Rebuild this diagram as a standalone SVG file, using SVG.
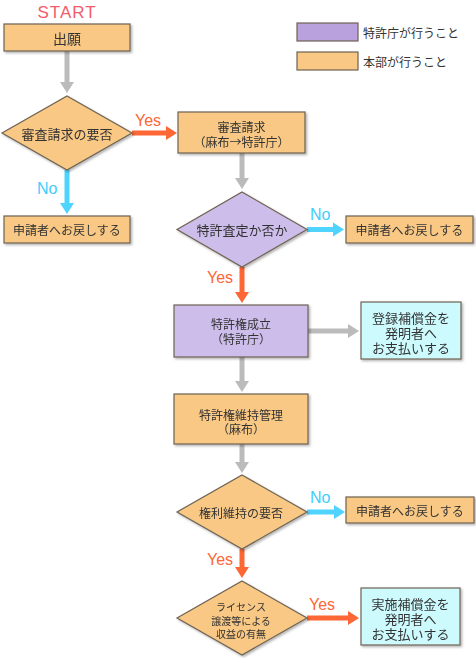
<svg xmlns="http://www.w3.org/2000/svg" width="476" height="658" viewBox="0 0 476 658">
<defs>
<filter id="sh" x="-10%" y="-10%" width="125%" height="130%">
<feDropShadow dx="1.5" dy="1.5" stdDeviation="1.2" flood-color="#000" flood-opacity="0.3"/>
</filter>
</defs>
<style>
.o{fill:#f8c884;stroke:#6e6252;stroke-width:1.2}
.p{fill:#cdbdea;stroke:#6e6252;stroke-width:1.2}
.c{fill:#ccfafd;stroke:#6e6252;stroke-width:1.2}
.n{filter:url(#sh)}
.t{font-family:"Noto Sans CJK JP","Noto Sans",sans-serif;fill:#333;text-anchor:middle;dominant-baseline:central}
.g{fill:#bbbbbb}
.y{fill:#fd6635}
.b{fill:#4fd3ff}
.ly{font-family:"Liberation Sans",Arial,sans-serif;font-size:16px;fill:#fd6635}
.lb{font-family:"Liberation Sans",Arial,sans-serif;font-size:16px;fill:#3fcdfd}
</style>
<rect width="476" height="658" fill="#fff"/>
<text x="67" y="18" font-family="Liberation Sans,Arial,sans-serif" font-size="17" letter-spacing="1" fill="#f25c6a" text-anchor="middle">START</text>
<g id="legend">
<rect x="297" y="23" width="61" height="18" fill="#b9a1de" stroke="#6e6252" stroke-width="1.2"/>
<text class="t" x="363" y="32" font-size="12" style="text-anchor:start">特許庁が行うこと</text>
<rect x="297" y="52" width="61" height="18" fill="#f8c884" stroke="#6e6252" stroke-width="1.2"/>
<text class="t" x="363" y="61" font-size="12" style="text-anchor:start">本部が行うこと</text>
</g>
<g id="connectors">
<path class="g" d="M64.5,51H69.5V82H74L67,93L60,82H64.5Z"/>
<path class="y" d="M132,130.5H166V126L177,133L166,140V135.5H132Z"/>
<text class="ly" x="135" y="126">Yes</text>
<path class="b" d="M64.5,170H69.5V203H74L67,214L60,203H64.5Z"/>
<text class="lb" x="37" y="194">No</text>
<path class="g" d="M239.5,153H244.5V178H249L242,189L235,178H239.5Z"/>
<path class="b" d="M307,227H333V222.5L344,229.5L333,236.5V232H307Z"/>
<text class="lb" x="310" y="220">No</text>
<path class="y" d="M239.5,267H244.5V292H249L242,303L235,292H239.5Z"/>
<text class="ly" x="207" y="283">Yes</text>
<path class="g" d="M308,328.5H348V324L359,331L348,338V333.5H308Z"/>
<path class="g" d="M239.5,357H244.5V381H249L242,392L235,381H239.5Z"/>
<path class="g" d="M239.5,444H244.5V462H249L242,473L235,462H239.5Z"/>
<path class="b" d="M307,509.5H334V505L345,512L334,519V514.5H307Z"/>
<text class="lb" x="310" y="503">No</text>
<path class="y" d="M239.5,549H244.5V567H249L242,578L235,567H239.5Z"/>
<text class="ly" x="207" y="565">Yes</text>
<path class="y" d="M307,615.5H348V611L359,618L348,625V620.5H307Z"/>
<text class="ly" x="309" y="610">Yes</text>
</g>
<g id="n1" class="n"><rect class="o" x="4" y="24" width="126" height="27"/><text class="t" x="67" y="37.5" font-size="14">出願</text></g>
<g id="d1" class="n"><polygon class="o" points="67,96 132,133 67,170 2,133"/><text class="t" x="67" y="133" font-size="13">審査請求の要否</text></g>
<g id="n2" class="n"><rect class="o" x="4" y="216" width="126" height="27"/><text class="t" x="67" y="229.5" font-size="12">申請者へお戻しする</text></g>
<g id="n3" class="n"><rect class="o" x="178" y="112" width="127" height="41"/><text class="t" x="241.5" y="126.5" font-size="12">審査請求</text><text class="t" x="241.5" y="141.5" font-size="12">（麻布→特許庁）</text></g>
<g id="d2" class="n"><polygon class="p" points="242,192 307,229.5 242,267 177,229.5"/><text class="t" x="242" y="229.5" font-size="13">特許査定か否か</text></g>
<g id="n4" class="n"><rect class="o" x="346" y="216" width="127" height="27"/><text class="t" x="409.5" y="229.5" font-size="12">申請者へお戻しする</text></g>
<g id="n5" class="n"><rect class="p" x="174" y="305" width="134" height="52"/><text class="t" x="241" y="323.5" font-size="12">特許権成立</text><text class="t" x="241" y="338" font-size="12">（特許庁）</text></g>
<g id="n6" class="n"><rect class="c" x="361" y="302" width="100" height="57"/><text class="t" x="411" y="317.5" font-size="13">登録補償金を</text><text class="t" x="411" y="332.5" font-size="13">発明者へ</text><text class="t" x="411" y="347" font-size="13">お支払いする</text></g>
<g id="n7" class="n"><rect class="o" x="174" y="394" width="134" height="50"/><text class="t" x="241" y="414" font-size="12">特許権維持管理</text><text class="t" x="241" y="428.5" font-size="12">（麻布）</text></g>
<g id="d3" class="n"><polygon class="o" points="242,475 307,512 242,549 177,512"/><text class="t" x="241" y="512" font-size="12">権利維持の要否</text></g>
<g id="n8" class="n"><rect class="o" x="346" y="497" width="128" height="26"/><text class="t" x="410" y="510" font-size="12">申請者へお戻しする</text></g>
<g id="d4" class="n"><polygon class="o" points="242,581 307,618 242,655 177,618"/><text class="t" x="241" y="606" font-size="10">ライセンス</text><text class="t" x="241" y="620" font-size="10">譲渡等による</text><text class="t" x="241" y="633" font-size="10">収益の有無</text></g>
<g id="n9" class="n"><rect class="c" x="361" y="588" width="99" height="57"/><text class="t" x="410.5" y="603" font-size="13">実施補償金を</text><text class="t" x="410.5" y="618" font-size="13">発明者へ</text><text class="t" x="410.5" y="633" font-size="13">お支払いする</text></g>
</svg>
